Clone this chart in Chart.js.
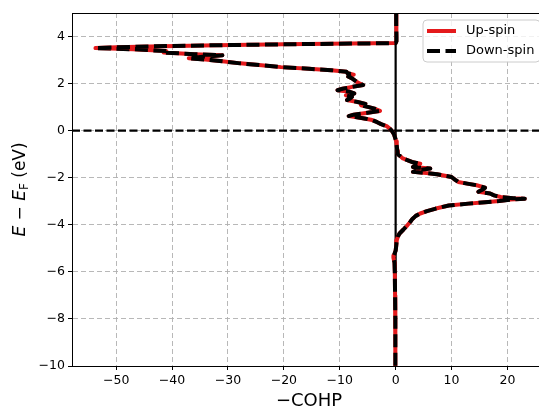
<!DOCTYPE html>
<html>
<head>
<meta charset="utf-8">
<script src="https://cdn.jsdelivr.net/npm/chart.js@4/dist/chart.umd.min.js"></script>
<style>
    html, body { margin: 0; padding: 0; background: #fff; overflow: hidden; }
    #wrap { width: 548px; height: 410px; }
</style>
</head>
<body>
<div id="wrap"><canvas id="cohpChart" width="548" height="410"></canvas></div>
<script>
// Energy grid (E - E_F, eV) and -COHP per spin channel
const energy = [
    5.00, 4.50, 4.00, 3.80, 3.72, 3.70, 3.67, 3.63, 3.58, 3.54,
    3.51, 3.46, 3.38, 3.32, 3.25, 3.20, 3.14, 3.08, 3.02, 2.95,
    2.86, 2.78, 2.70, 2.63, 2.57, 2.50, 2.44, 2.38, 2.30, 2.22,
    2.12, 2.02, 1.94, 1.86, 1.78, 1.72, 1.65, 1.58, 1.50, 1.44,
    1.36, 1.30, 1.22, 1.14, 1.08, 1.00, 0.92, 0.84, 0.76, 0.68,
    0.62, 0.58, 0.52, 0.45, 0.36, 0.28, 0.19, 0.10, 0.00, -0.15,
    -0.30, -0.45, -0.65, -0.85, -1.00, -1.10, -1.18, -1.26, -1.33, -1.40,
    -1.47, -1.54, -1.61, -1.68, -1.75, -1.80, -1.85, -1.97, -2.08, -2.18,
    -2.25, -2.32, -2.42, -2.50, -2.60, -2.67, -2.75, -2.82, -2.87, -2.89,
    -2.93, -2.99, -3.04, -3.10, -3.18, -3.31, -3.42, -3.52, -3.62, -3.75,
    -3.88, -4.02, -4.20, -4.37, -4.50, -4.66, -4.90, -5.10, -5.30, -5.40,
    -5.60, -6.00, -7.00, -8.00, -9.00, -10.00
];

const negCohpUp = [
    0.10, 0.10, 0.15, 0.15, 0.00, -8.0, -20.0, -32.0, -44.0, -50.0,
    -53.7, -47.0, -41.0, -41.5, -36.0, -31.0, -34.5, -37.0, -34.0, -31.0,
    -27.8, -24.0, -20.5, -15.5, -11.5, -8.8, -8.6, -7.5, -8.5, -7.8,
    -7.2, -6.6, -5.8, -7.8, -9.5, -10.4, -8.2, -7.4, -8.9, -7.8,
    -8.2, -8.7, -6.8, -5.4, -6.2, -4.8, -3.6, -2.8, -5.0, -7.5,
    -8.4, -7.2, -5.6, -4.2, -3.3, -2.6, -1.6, -1.1, -0.7, -0.3,
    -0.1, 0.1, 0.2, 0.3, 0.4, 0.9, 1.3, 2.2, 2.9, 4.4,
    3.6, 3.1, 6.2, 4.0, 3.1, 5.5, 7.4, 10.0, 10.6, 11.2,
    12.8, 14.5, 16.0, 15.6, 14.8, 16.9, 17.6, 18.8, 21.0, 23.1,
    20.5, 18.5, 16.0, 13.0, 9.5, 7.2, 5.6, 4.4, 3.6, 3.0,
    2.6, 2.1, 1.4, 0.7, 0.4, 0.2, 0.1, 0.0, -0.3, -0.4,
    -0.2, -0.15, -0.1, -0.05, -0.05, -0.05
];

// down-spin channel overlaps the up-spin one in the plot
const negCohpDown = negCohpUp.slice();

const xTickValues = [-50, -40, -30, -20, -10, 0, 10, 20];
const yTickValues = [-10, -8, -6, -4, -2, 0, 2, 4];
const xRange = [-57.9, 26.9];
const yRange = [-10, 5];
const fermiLevel = 0;

const FONT = '"DejaVu Sans", "Liberation Sans", sans-serif';

function toPoints(xs) {
    return energy.map((e, i) => ({ x: xs[i], y: e }));
}

function minusSign(v) {
    return String(v).replace('-', '\u2212');
}

// Reference lines, top spine, axis titles and legend
const decorPlugin = {
    id: 'decor',
    beforeDatasetsDraw(chart) {
        const { ctx, chartArea: a, scales } = chart;
        ctx.save();
        ctx.beginPath();
        ctx.rect(a.left, a.top, a.right - a.left, a.bottom - a.top);
        ctx.clip();
        ctx.strokeStyle = '#000';
        ctx.lineWidth = 2.2;

        // Fermi level
        const yf = scales.y.getPixelForValue(fermiLevel);
        ctx.setLineDash([8, 3.5]);
        ctx.beginPath();
        ctx.moveTo(a.left, yf);
        ctx.lineTo(a.right, yf);
        ctx.stroke();

        // COHP = 0
        const x0 = scales.x.getPixelForValue(0);
        ctx.setLineDash([]);
        ctx.beginPath();
        ctx.moveTo(x0, a.top);
        ctx.lineTo(x0, a.bottom);
        ctx.stroke();
        ctx.restore();
    },
    afterDraw(chart) {
        const { ctx, chartArea: a } = chart;
        ctx.save();

        // top spine
        ctx.strokeStyle = '#000';
        ctx.lineWidth = 1;
        ctx.beginPath();
        ctx.moveTo(a.left, a.top + 0.5);
        ctx.lineTo(a.right, a.top + 0.5);
        ctx.stroke();

        // x title
        ctx.fillStyle = '#000';
        ctx.font = '18px ' + FONT;
        ctx.textAlign = 'center';
        ctx.textBaseline = 'middle';
        ctx.fillText('\u2212COHP', (a.left + a.right) / 2, 401);

        // y title: E − E_F (eV)
        const size = 17;
        const parts = [
            { t: 'E', font: 'italic ' + size + 'px ' + FONT, dy: 0 },
            { t: ' \u2212 ', font: size + 'px ' + FONT, dy: 0 },
            { t: 'E', font: 'italic ' + size + 'px ' + FONT, dy: 0 },
            { t: 'F', font: Math.round(size * 0.7) + 'px ' + FONT, dy: 3.5 },
            { t: ' (eV)', font: size + 'px ' + FONT, dy: 0 }
        ];
        let total = 0;
        parts.forEach(p => { ctx.font = p.font; p.w = ctx.measureText(p.t).width; total += p.w; });
        ctx.translate(21, (a.top + a.bottom) / 2);
        ctx.rotate(-Math.PI / 2);
        ctx.textAlign = 'left';
        ctx.textBaseline = 'middle';
        let px = -total / 2;
        parts.forEach(p => {
            ctx.font = p.font;
            ctx.fillText(p.t, px, p.dy);
            px += p.w;
        });
        ctx.setTransform(1, 0, 0, 1, 0, 0);

        // legend
        const bx = 423, by = 20, bw = 117, bh = 42, r = 4;
        ctx.beginPath();
        ctx.moveTo(bx + r, by);
        ctx.arcTo(bx + bw, by, bx + bw, by + bh, r);
        ctx.arcTo(bx + bw, by + bh, bx, by + bh, r);
        ctx.arcTo(bx, by + bh, bx, by, r);
        ctx.arcTo(bx, by, bx + bw, by, r);
        ctx.closePath();
        ctx.fillStyle = 'rgba(255,255,255,0.8)';
        ctx.fill();
        ctx.strokeStyle = '#cccccc';
        ctx.lineWidth = 1;
        ctx.stroke();

        ctx.font = '13px ' + FONT;
        ctx.textAlign = 'left';
        ctx.textBaseline = 'middle';
        chart.data.datasets.forEach((ds, i) => {
            const ly = 31 + i * 20;
            ctx.strokeStyle = ds.borderColor;
            ctx.lineWidth = ds.borderWidth;
            ctx.setLineDash(ds.borderDash || []);
            ctx.beginPath();
            ctx.moveTo(427, ly);
            ctx.lineTo(456, ly);
            ctx.stroke();
            ctx.setLineDash([]);
            ctx.fillStyle = '#000';
            ctx.fillText(ds.label, 466, ly);
        });
        ctx.restore();
    }
};

const ctx = document.getElementById('cohpChart').getContext('2d');
const chart = new Chart(ctx, {
    type: 'scatter',
    data: {
        datasets: [
            {
                label: 'Up-spin',
                data: toPoints(negCohpUp),
                showLine: true,
                borderColor: '#e41a1c',
                borderWidth: 4,
                borderJoinStyle: 'round',
                borderCapStyle: 'round',
                pointRadius: 0,
                order: 2
            },
            {
                label: 'Down-spin',
                data: toPoints(negCohpDown),
                showLine: true,
                borderColor: '#000000',
                borderWidth: 4,
                borderDash: [13, 5.5],
                borderJoinStyle: 'round',
                pointRadius: 0,
                order: 1
            }
        ]
    },
    options: {
        responsive: false,
        animation: false,
        devicePixelRatio: 1,
        layout: { padding: { top: 13, right: 2, left: 0, bottom: 0 } },
        plugins: {
            legend: { display: false },
            tooltip: { enabled: false }
        },
        scales: {
            x: {
                type: 'linear',
                min: xRange[0],
                max: xRange[1],
                afterBuildTicks: axis => { axis.ticks = xTickValues.map(v => ({ value: v })); },
                afterFit: axis => { axis.height = 44; },
                grid: {
                    color: '#b0b0b0',
                    lineWidth: 0.9,
                    tickColor: '#000',
                    tickLength: 4,
                    tickWidth: 1
                },
                border: { display: true, color: '#000', width: 1, dash: [5, 3] },
                ticks: {
                    color: '#000',
                    padding: 3,
                    maxRotation: 0,
                    font: { family: FONT, size: 12.5 },
                    callback: v => minusSign(v)
                }
            },
            y: {
                type: 'linear',
                min: yRange[0],
                max: yRange[1],
                afterBuildTicks: axis => { axis.ticks = yTickValues.map(v => ({ value: v })); },
                afterFit: axis => { axis.width = 72; },
                grid: {
                    color: '#b0b0b0',
                    lineWidth: 0.9,
                    tickColor: '#000',
                    tickLength: 4,
                    tickWidth: 1
                },
                border: { display: true, color: '#000', width: 1, dash: [5, 3] },
                ticks: {
                    color: '#000',
                    padding: 3,
                    font: { family: FONT, size: 12.5 },
                    callback: v => minusSign(v)
                }
            }
        }
    },
    plugins: [decorPlugin]
});
</script>
</body>
</html>
